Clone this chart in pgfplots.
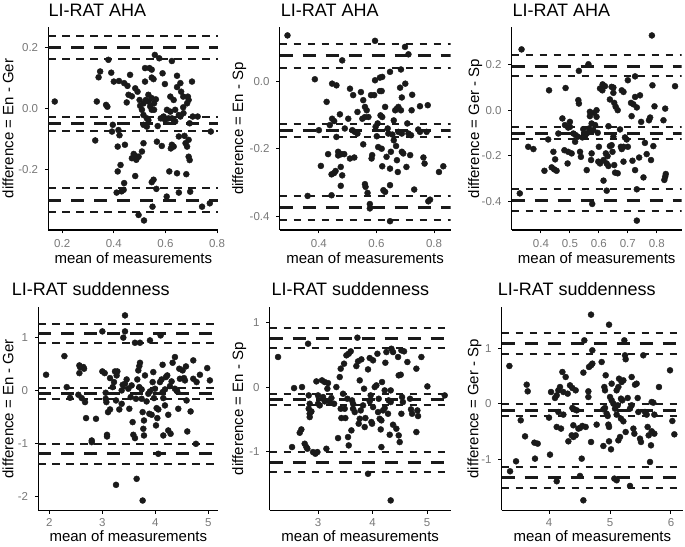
\documentclass[border=0pt]{standalone}
\usepackage{pgfplots}
\pgfplotsset{compat=1.18}
\usepackage{fontspec}
\setmainfont{Liberation Sans}
\definecolor{tickgray}{RGB}{120,120,120}
\definecolor{ptcol}{RGB}{26,26,26}
\pgfplotsset{
  ba/.style={
    scale only axis, enlargelimits=false, clip=true,
    axis x line*=bottom, axis y line*=left,
    x axis line style={-, line width=1.1pt, black},
    y axis line style={-, line width=1.1pt, black},
    tick style={black, line width=1pt}, major tick length=3.5pt, tick align=outside,
    xtick pos=bottom, ytick pos=left,
    ticklabel style={font=\fontsize{11.5}{13}\selectfont, text=tickgray, inner sep=1pt},
    xticklabel style={yshift=-4.8pt},
    yticklabel style={xshift=-5.5pt},
  },
  bot/.style={xticklabel style={yshift=1pt}},
  pts/.style={only marks, mark=*, mark size=3pt, draw=ptcol, fill=ptcol},
  loa/.style={ptcol, line width=3pt, dash pattern=on 13pt off 10pt},
  ci/.style={ptcol, line width=2pt, dash pattern=on 7.5pt off 6.5pt},
}
\newcommand{\ttl}{\fontsize{18}{21}\selectfont}
\newcommand{\lbl}{\fontsize{15}{18}\selectfont}
\begin{document}
\begin{tikzpicture}
\useasboundingbox (0pt,0pt) rectangle (685pt,546pt);

% ---------------- Panel 1 ----------------
\begin{axis}[ba, at={(48.3pt,316pt)}, anchor=south west, width=170pt, height=203pt,
  xmin=0.146, xmax=0.805, ymin=-0.396, ymax=0.266,
  xtick={0.2,0.4,0.6,0.8}, xticklabels={0.2,0.4,0.6,0.8},
  ytick={-0.2,0,0.2}, yticklabels={-0.2,0.0,0.2}]
\addplot[pts] table {
0.171 0.023
0.379 0.159
0.347 0.121
0.341 0.102
0.334 0.023
0.370 0.012
0.375 0.006
0.328 -0.104
0.390 0.117
0.400 0.088
0.420 0.090
0.396 -0.053
0.393 -0.075
0.418 -0.070
0.422 -0.087
0.415 -0.124
0.443 -0.118
0.426 -0.184
0.415 -0.205
0.411 -0.274
0.430 -0.270
0.440 -0.243
0.438 -0.265
0.463 0.110
0.440 0.083
0.453 0.074
0.457 0.045
0.450 0.020
0.470 0.040
0.483 0.066
0.492 0.055
0.500 0.028
0.483 -0.154
0.477 -0.148
0.470 -0.162
0.487 -0.167
0.496 -0.157
0.509 -0.140
0.483 -0.220
0.496 -0.347
0.517 -0.365
0.502 0.009
0.509 -0.004
0.515 -0.021
0.528 -0.032
0.534 -0.038
0.515 -0.053
0.528 -0.059
0.521 0.088
0.521 0.132
0.538 0.132
0.547 0.127
0.547 0.101
0.554 0.096
0.534 0.045
0.547 0.034
0.524 0.028
0.534 0.023
0.515 0.017
0.541 0.007
0.547 -0.004
0.556 0.017
0.556 -0.004
0.563 0.030
0.515 -0.113
0.547 -0.240
0.554 -0.232
0.550 -0.320
0.565 -0.262
0.559 0.175
0.576 0.164
0.589 0.115
0.598 0.080
0.593 -0.026
0.582 -0.032
0.567 -0.108
0.586 -0.122
0.570 -0.057
0.606 -0.004
0.619 -0.010
0.612 -0.032
0.625 -0.032
0.599 -0.037
0.625 0.155
0.619 0.039
0.645 0.107
0.632 0.028
0.645 0.070
0.658 0.083
0.661 0.055
0.669 0.039
0.638 -0.004
0.632 -0.037
0.638 -0.042
0.669 0.004
0.670 -0.015
0.652 -0.021
0.658 -0.026
0.625 -0.118
0.632 -0.124
0.621 -0.130
0.652 -0.091
0.615 -0.205
0.605 -0.287
0.652 -0.274
0.645 -0.211
0.678 -0.113
0.684 -0.124
0.674 -0.089
0.681 -0.214
0.690 -0.157
0.694 -0.168
0.696 -0.271
0.687 0.039
0.684 0.017
0.690 0.028
0.703 0.088
0.706 -0.026
0.725 -0.026
0.694 -0.048
0.690 -0.102
0.776 -0.075
0.742 -0.320
0.772 -0.309
};
\addplot[loa] coordinates {(0.146,0.198) (0.805,0.198)};
\addplot[ci]  coordinates {(0.146,0.238) (0.805,0.238)};
\addplot[ci]  coordinates {(0.146,0.161) (0.805,0.161)};
\addplot[loa] coordinates {(0.146,-0.050) (0.805,-0.050)};
\addplot[ci]  coordinates {(0.146,-0.028) (0.805,-0.028)};
\addplot[ci]  coordinates {(0.146,-0.072) (0.805,-0.072)};
\addplot[loa] coordinates {(0.146,-0.300) (0.805,-0.300)};
\addplot[ci]  coordinates {(0.146,-0.260) (0.805,-0.260)};
\addplot[ci]  coordinates {(0.146,-0.338) (0.805,-0.338)};
\end{axis}

% ---------------- Panel 2 ----------------
\begin{axis}[ba, at={(279.7pt,316pt)}, anchor=south west, width=170.8pt, height=203pt,
  xmin=0.264, xmax=0.857, ymin=-0.441, ymax=0.161,
  xtick={0.4,0.6,0.8}, xticklabels={0.4,0.6,0.8},
  ytick={-0.4,-0.2,0}, yticklabels={-0.4,-0.2,0.0}]
\addplot[pts] table {
0.291 0.136
0.386 0.006
0.427 -0.061
0.400 -0.145
0.407 -0.251
0.361 -0.340
0.481 0.062
0.446 -0.007
0.461 -0.012
0.446 -0.111
0.453 -0.118
0.438 -0.130
0.432 -0.216
0.444 -0.276
0.453 -0.272
0.458 -0.266
0.444 -0.338
0.467 -0.220
0.467 -0.209
0.479 -0.216
0.488 -0.216
0.476 -0.254
0.481 -0.279
0.476 -0.310
0.473 -0.098
0.461 -0.165
0.490 -0.140
0.502 -0.111
0.508 -0.022
0.519 -0.041
0.516 -0.145
0.525 -0.150
0.534 -0.155
0.508 -0.229
0.523 -0.226
0.534 -0.091
0.546 -0.032
0.554 -0.056
0.560 -0.076
0.566 -0.086
0.551 -0.111
0.560 -0.106
0.572 -0.106
0.554 -0.187
0.560 -0.305
0.562 -0.313
0.569 -0.331
0.577 -0.364
0.577 -0.377
0.585 -0.219
0.583 -0.229
0.581 -0.041
0.592 -0.041
0.595 0.003
0.595 0.120
0.597 -0.135
0.601 -0.163
0.612 0.011
0.620 0.013
0.612 -0.029
0.618 -0.029
0.604 -0.125
0.614 -0.101
0.620 -0.106
0.606 -0.195
0.618 -0.200
0.620 -0.252
0.624 -0.323
0.630 -0.328
0.630 -0.076
0.635 -0.224
0.639 -0.140
0.641 -0.155
0.647 0.028
0.647 -0.259
0.647 -0.308
0.650 -0.209
0.647 -0.415
0.655 -0.158
0.660 -0.116
0.665 -0.086
0.660 -0.175
0.671 -0.081
0.676 -0.076
0.668 -0.192
0.671 -0.234
0.674 -0.269
0.682 -0.019
0.685 0.035
0.685 -0.086
0.688 -0.048
0.676 -0.150
0.688 -0.155
0.688 -0.209
0.693 -0.214
0.699 0.102
0.711 0.080
0.700 -0.007
0.704 -0.254
0.707 -0.125
0.711 -0.155
0.717 -0.219
0.722 -0.086
0.724 -0.040
0.731 -0.321
0.745 -0.143
0.751 -0.150
0.751 -0.074
0.763 -0.226
0.767 -0.244
0.778 -0.071
0.774 -0.150
0.786 -0.351
0.780 -0.356
0.832 -0.252
0.817 -0.269
0.720 -0.160
};
\addplot[loa] coordinates {(0.264,0.075) (0.857,0.075)};
\addplot[ci]  coordinates {(0.264,0.112) (0.857,0.112)};
\addplot[ci]  coordinates {(0.264,0.040) (0.857,0.040)};
\addplot[loa] coordinates {(0.264,-0.145) (0.857,-0.145)};
\addplot[ci]  coordinates {(0.264,-0.128) (0.857,-0.128)};
\addplot[ci]  coordinates {(0.264,-0.165) (0.857,-0.165)};
\addplot[loa] coordinates {(0.264,-0.374) (0.857,-0.374)};
\addplot[ci]  coordinates {(0.264,-0.340) (0.857,-0.340)};
\addplot[ci]  coordinates {(0.264,-0.412) (0.857,-0.412)};
\end{axis}

% ---------------- Panel 3 ----------------
\begin{axis}[ba, at={(511.7pt,316pt)}, anchor=south west, width=170pt, height=203pt,
  xmin=0.299, xmax=0.886, ymin=-0.524, ymax=0.364,
  xtick={0.4,0.5,0.6,0.7,0.8}, xticklabels={0.4,0.5,0.6,0.7,0.8},
  ytick={-0.4,-0.2,0,0.2}, yticklabels={-0.4,-0.2,0.0,0.2}]
\addplot[pts] table {
0.333 0.266
0.327 -0.364
0.356 -0.160
0.374 -0.170
0.428 0.087
0.425 -0.128
0.412 -0.265
0.443 -0.182
0.437 -0.250
0.449 -0.215
0.446 -0.259
0.454 -0.265
0.460 -0.102
0.474 -0.036
0.485 0.097
0.483 -0.065
0.481 -0.175
0.492 -0.233
0.500 -0.051
0.500 -0.073
0.494 -0.076
0.494 -0.182
0.506 -0.189
0.512 -0.102
0.520 -0.109
0.527 -0.116
0.518 -0.138
0.529 0.044
0.531 0.029
0.531 0.172
0.535 -0.182
0.538 -0.204
0.543 -0.119
0.552 -0.116
0.558 -0.102
0.546 -0.083
0.558 -0.262
0.564 0.201
0.566 -0.080
0.569 -0.090
0.573 -0.218
0.575 -0.189
0.569 -0.007
0.569 -0.026
0.577 -0.410
0.584 -0.012
0.592 0.000
0.575 -0.058
0.587 -0.065
0.581 -0.087
0.592 -0.029
0.596 -0.099
0.600 -0.160
0.598 -0.225
0.604 -0.233
0.604 0.095
0.612 0.087
0.613 0.113
0.621 0.105
0.616 -0.308
0.616 -0.218
0.624 -0.189
0.630 -0.201
0.627 -0.233
0.633 -0.244
0.627 -0.352
0.633 -0.070
0.638 -0.157
0.644 -0.153
0.638 0.047
0.644 0.102
0.650 0.099
0.650 0.076
0.653 0.032
0.658 0.015
0.650 -0.116
0.647 -0.182
0.653 -0.240
0.656 -0.273
0.665 -0.276
0.665 0.000
0.673 -0.084
0.679 0.087
0.685 0.080
0.676 -0.160
0.685 -0.160
0.685 -0.225
0.690 -0.119
0.696 -0.128
0.700 0.131
0.700 -0.160
0.711 0.032
0.719 0.026
0.713 -0.026
0.716 -0.221
0.725 0.148
0.725 0.058
0.731 0.012
0.725 -0.262
0.731 -0.346
0.731 -0.483
0.739 -0.207
0.742 0.065
0.746 -0.051
0.754 -0.294
0.759 -0.143
0.765 -0.192
0.773 -0.044
0.777 -0.032
0.780 -0.218
0.783 0.327
0.785 0.109
0.788 -0.157
0.792 0.017
0.823 -0.044
0.829 0.007
0.831 -0.279
0.829 -0.291
0.826 -0.305
0.863 0.105
0.679 -0.170
};
\addplot[loa] coordinates {(0.299,0.193) (0.886,0.193)};
\addplot[ci]  coordinates {(0.299,0.243) (0.886,0.243)};
\addplot[ci]  coordinates {(0.299,0.148) (0.886,0.148)};
\addplot[loa] coordinates {(0.299,-0.102) (0.886,-0.102)};
\addplot[ci]  coordinates {(0.299,-0.073) (0.886,-0.073)};
\addplot[ci]  coordinates {(0.299,-0.127) (0.886,-0.127)};
\addplot[loa] coordinates {(0.299,-0.396) (0.886,-0.396)};
\addplot[ci]  coordinates {(0.299,-0.346) (0.886,-0.346)};
\addplot[ci]  coordinates {(0.299,-0.441) (0.886,-0.441)};
\end{axis}

% ---------------- Panel 4 ----------------
\begin{axis}[ba, bot, at={(38.3pt,35.7pt)}, anchor=south west, width=180pt, height=203.3pt,
  xmin=1.79, xmax=5.19, ymin=-2.27, ymax=1.58,
  xtick={2,3,4,5}, xticklabels={2,3,4,5},
  ytick={-2,-1,0,1}, yticklabels={-2,-1,0,1}]
\addplot[pts] table {
1.937 0.297
2.283 0.650
2.327 0.063
2.390 -0.139
2.547 -0.082
2.566 0.474
2.579 0.442
2.566 0.328
2.642 0.442
2.654 0.411
2.610 -0.145
2.673 -0.221
2.692 -0.524
2.799 -0.948
2.799 -0.979
2.880 -0.537
3.000 1.118
3.000 0.360
3.044 0.328
3.063 -0.044
3.063 -0.158
3.076 -0.221
3.088 -0.840
3.088 -0.872
3.107 -0.411
3.145 -0.360
3.145 0.234
3.195 0.063
3.220 0.158
3.239 0.360
3.283 0.360
3.258 -0.190
3.258 -1.788
3.270 0.284
3.320 -0.360
3.365 0.000
3.384 0.107
3.396 1.000
3.428 1.421
3.428 1.118
3.428 0.126
3.459 0.208
3.491 0.032
3.509 -0.347
3.535 -0.126
3.572 -0.600
3.585 -0.840
3.616 -0.903
3.616 0.903
3.711 0.903
3.635 -0.158
3.648 -1.674
3.660 0.208
3.679 0.379
3.698 0.461
3.711 0.524
3.698 0.063
3.742 0.019
3.761 -2.085
3.742 -0.158
3.761 -0.411
3.786 -0.569
3.774 -0.726
3.786 -0.853
3.805 0.284
3.836 -0.208
3.868 -0.063
3.899 -0.019
3.887 -0.442
3.899 0.948
3.931 -0.461
3.950 0.158
3.962 0.347
3.975 -0.145
3.994 0.032
4.013 -0.663
4.025 -0.335
4.057 -0.360
4.038 -0.524
4.057 -1.200
4.088 0.158
4.119 0.208
4.101 1.042
4.138 0.486
4.138 -0.032
4.182 0.019
4.151 -0.145
4.151 -0.853
4.182 -0.284
4.201 0.253
4.226 0.284
4.245 -0.461
4.245 -0.758
4.289 -0.821
4.277 0.082
4.308 0.171
4.327 0.524
4.371 0.632
4.371 0.032
4.403 0.000
4.415 -0.019
4.434 -0.347
4.453 0.411
4.465 0.221
4.516 0.379
4.541 0.234
4.560 0.190
4.579 0.455
4.591 -0.190
4.604 -0.777
4.667 -0.398
4.717 0.569
4.717 0.221
4.780 0.158
4.767 -1.011
4.843 0.297
4.981 0.423
5.031 0.190
3.553 0.095
3.365 -0.253
};
\addplot[loa] coordinates {(1.79,1.074) (5.19,1.074)};
\addplot[ci]  coordinates {(1.79,1.250) (5.19,1.250)};
\addplot[ci]  coordinates {(1.79,0.897) (5.19,0.897)};
\addplot[loa] coordinates {(1.79,-0.063) (5.19,-0.063)};
\addplot[ci]  coordinates {(1.79,0.044) (5.19,0.044)};
\addplot[ci]  coordinates {(1.79,-0.170) (5.19,-0.170)};
\addplot[loa] coordinates {(1.79,-1.200) (5.19,-1.200)};
\addplot[ci]  coordinates {(1.79,-1.023) (5.19,-1.023)};
\addplot[ci]  coordinates {(1.79,-1.390) (5.19,-1.390)};
\end{axis}

% ---------------- Panel 5 ----------------
\begin{axis}[ba, bot, at={(269.7pt,35.7pt)}, anchor=south west, width=181pt, height=203.3pt,
  xmin=2.113, xmax=5.434, ymin=-1.92, ymax=1.247,
  xtick={3,4,5}, xticklabels={3,4,5},
  ytick={-1,0,1}, yticklabels={-1,0,1}]
\addplot[pts] table {
2.266 0.468
2.523 -0.935
2.560 -0.016
2.664 -0.712
2.694 -0.660
2.706 0.000
2.755 -0.883
2.786 -0.935
2.804 -0.961
2.817 0.675
2.829 -0.130
2.847 -0.260
2.829 -0.338
2.847 -0.416
2.847 -0.468
2.908 -1.013
2.951 -1.039
2.988 -1.013
2.969 0.088
3.000 -0.260
3.031 -0.286
3.000 -0.130
3.073 0.104
3.122 0.078
3.092 -0.156
3.122 -0.223
3.153 -0.961
3.171 -0.026
3.183 0.062
3.245 -0.171
3.214 -0.234
3.294 -0.260
3.336 0.000
3.367 -0.795
3.398 0.156
3.416 0.286
3.416 -0.338
3.428 -0.483
3.459 -0.104
3.477 0.364
3.489 -0.338
3.501 -0.483
3.520 0.494
3.563 0.519
3.538 -0.182
3.550 -0.779
3.563 -0.909
3.600 0.556
3.612 -0.675
3.624 -0.208
3.642 -0.260
3.642 -0.338
3.673 -0.390
3.703 0.327
3.722 0.769
3.734 0.400
3.765 0.104
3.765 -0.494
3.746 -0.571
3.783 -0.364
3.795 0.431
3.826 -0.286
3.844 -0.026
3.856 -0.623
3.869 -0.483
3.917 0.275
3.948 0.452
3.948 -0.223
3.966 -0.130
3.979 -0.545
3.991 -0.571
4.009 0.416
4.040 0.000
4.070 0.026
4.009 -0.312
4.089 0.519
4.101 -0.390
4.113 -0.182
4.131 -0.494
4.162 -0.519
4.162 -0.935
4.150 -0.660
4.174 0.078
4.193 -0.364
4.223 -0.327
4.223 -0.052
4.235 0.379
4.254 0.545
4.284 -0.416
4.315 -0.743
4.297 -0.208
4.346 0.597
4.376 0.545
4.376 -0.587
4.333 -0.052
4.333 -0.234
4.333 -1.766
3.917 -1.351
4.437 -0.649
4.468 0.468
4.480 -0.753
4.498 -0.857
4.480 0.182
4.517 0.192
4.529 0.571
4.529 -0.416
4.541 -0.156
4.557 -0.234
4.578 0.556
4.639 0.390
4.688 -0.182
4.706 -0.348
4.725 -0.416
4.804 0.286
4.823 -0.364
4.835 -0.452
4.804 -0.701
4.896 0.468
5.006 0.010
5.324 -0.130
2.878 -0.380
};
\addplot[loa] coordinates {(2.113,0.764) (5.434,0.764)};
\addplot[ci]  coordinates {(2.113,0.919) (5.434,0.919)};
\addplot[ci]  coordinates {(2.113,0.613) (5.434,0.613)};
\addplot[loa] coordinates {(2.113,-0.197) (5.434,-0.197)};
\addplot[ci]  coordinates {(2.113,-0.114) (5.434,-0.114)};
\addplot[ci]  coordinates {(2.113,-0.286) (5.434,-0.286)};
\addplot[loa] coordinates {(2.113,-1.169) (5.434,-1.169)};
\addplot[ci]  coordinates {(2.113,-1.013) (5.434,-1.013)};
\addplot[ci]  coordinates {(2.113,-1.325) (5.434,-1.325)};
\end{axis}

% ---------------- Panel 6 ----------------
\begin{axis}[ba, bot, at={(501.7pt,35.7pt)}, anchor=south west, width=181.3pt, height=203.3pt,
  xmin=3.224, xmax=6.197, ymin=-1.922, ymax=1.742,
  xtick={4,5,6}, xticklabels={4,5,6},
  ytick={-1,0,1}, yticklabels={-1,0,1}]
\addplot[pts] table {
3.350 0.679
3.361 -1.219
3.459 -1.039
3.536 -0.300
3.607 -0.589
3.634 0.342
3.650 0.222
3.760 -0.703
3.814 -0.721
3.770 -0.991
4.000 -0.252
4.016 -0.919
4.033 0.210
4.098 0.102
4.126 0.150
4.126 -1.399
4.153 0.240
4.180 0.300
4.153 -0.150
4.126 -0.420
4.197 -0.450
4.219 0.571
4.235 0.210
4.273 0.480
4.235 -0.198
4.306 0.180
4.317 -0.679
4.344 0.330
4.383 0.282
4.372 -0.571
4.399 -0.601
4.399 -0.390
4.383 -0.078
4.415 -0.102
4.437 0.240
4.454 -0.120
4.437 -0.571
4.481 -0.450
4.508 -0.438
4.508 -1.303
4.536 -0.991
4.563 -1.742
4.546 -0.402
4.563 0.559
4.579 1.141
4.601 -0.420
4.645 0.222
4.645 0.120
4.656 0.661
4.689 0.691
4.689 1.604
4.710 0.721
4.710 0.961
4.689 -0.691
4.781 -0.378
4.863 0.751
4.891 -0.102
4.918 -0.078
4.907 0.300
4.918 0.240
4.891 -0.763
4.929 0.511
4.945 -0.180
4.962 -0.222
4.973 -0.378
4.984 -0.420
4.984 1.423
4.984 -0.679
5.000 0.120
5.027 0.060
5.016 -0.823
5.027 0.360
5.055 0.000
5.071 -1.351
5.109 -1.381
5.082 -0.090
5.109 -0.198
5.109 0.240
5.137 0.300
5.148 0.450
5.126 -0.030
5.137 -0.661
5.164 -0.601
5.180 0.090
5.202 0.060
5.180 -0.270
5.219 -0.318
5.191 0.390
5.219 0.420
5.235 1.141
5.246 0.871
5.257 0.800
5.257 -0.511
5.290 0.102
5.328 -0.090
5.355 -0.030
5.355 0.480
5.383 -0.450
5.399 -0.541
5.328 -1.483
5.410 0.342
5.437 0.360
5.454 0.102
5.465 -0.150
5.492 -0.631
5.508 -0.691
5.546 0.871
5.574 -0.150
5.601 -0.198
5.617 -0.420
5.634 -0.571
5.656 -1.051
5.672 -0.751
5.683 0.030
5.710 0.018
5.683 -0.498
5.727 -0.541
5.727 -0.198
5.803 0.300
5.984 0.601
6.022 -0.312
6.055 -0.553
};
\addplot[loa] coordinates {(3.224,1.093) (6.197,1.093)};
\addplot[ci]  coordinates {(3.224,1.273) (6.197,1.273)};
\addplot[ci]  coordinates {(3.224,0.901) (6.197,0.901)};
\addplot[loa] coordinates {(3.224,-0.120) (6.197,-0.120)};
\addplot[ci]  coordinates {(3.224,-0.012) (6.197,-0.012)};
\addplot[ci]  coordinates {(3.224,-0.228) (6.197,-0.228)};
\addplot[loa] coordinates {(3.224,-1.333) (6.197,-1.333)};
\addplot[ci]  coordinates {(3.224,-1.141) (6.197,-1.141)};
\addplot[ci]  coordinates {(3.224,-1.520) (6.197,-1.520)};
\end{axis}

% ---------------- Titles and labels ----------------
\node[anchor=base west, inner sep=0pt] at (48.3pt,529.3pt) {\ttl LI-RAT AHA};
\node[anchor=base west, inner sep=0pt] at (280.7pt,529.3pt) {\ttl LI-RAT AHA};
\node[anchor=base west, inner sep=0pt] at (512.3pt,529.3pt) {\ttl LI-RAT AHA};
\node[anchor=base west, inner sep=0pt] at (11.7pt,250.7pt) {\ttl LI-RAT suddenness};
\node[anchor=base west, inner sep=0pt] at (271.3pt,250.7pt) {\ttl LI-RAT suddenness};
\node[anchor=base west, inner sep=0pt] at (497.7pt,250.7pt) {\ttl LI-RAT suddenness};

\node[anchor=base, inner sep=0pt] at (133.3pt,282.7pt) {\lbl mean of measurements};
\node[anchor=base, inner sep=0pt] at (365.1pt,282.7pt) {\lbl mean of measurements};
\node[anchor=base, inner sep=0pt] at (596.7pt,282.7pt) {\lbl mean of measurements};
\node[anchor=base, inner sep=0pt] at (128.3pt,4.8pt) {\lbl mean of measurements};
\node[anchor=base, inner sep=0pt] at (360.2pt,4.8pt) {\lbl mean of measurements};
\node[anchor=base, inner sep=0pt] at (592.4pt,4.8pt) {\lbl mean of measurements};

\node[anchor=base, inner sep=0pt, rotate=90] at (13.3pt,417.5pt) {\lbl difference = En - Ger};
\node[anchor=base, inner sep=0pt, rotate=90] at (243pt,417.5pt) {\lbl difference = En - Sp};
\node[anchor=base, inner sep=0pt, rotate=90] at (479pt,417.5pt) {\lbl difference = Ger - Sp};
\node[anchor=base, inner sep=0pt, rotate=90] at (13.3pt,137.3pt) {\lbl difference = En - Ger};
\node[anchor=base, inner sep=0pt, rotate=90] at (243pt,137.3pt) {\lbl difference = En - Sp};
\node[anchor=base, inner sep=0pt, rotate=90] at (478.3pt,137.3pt) {\lbl difference = Ger - Sp};
\end{tikzpicture}
\end{document}
